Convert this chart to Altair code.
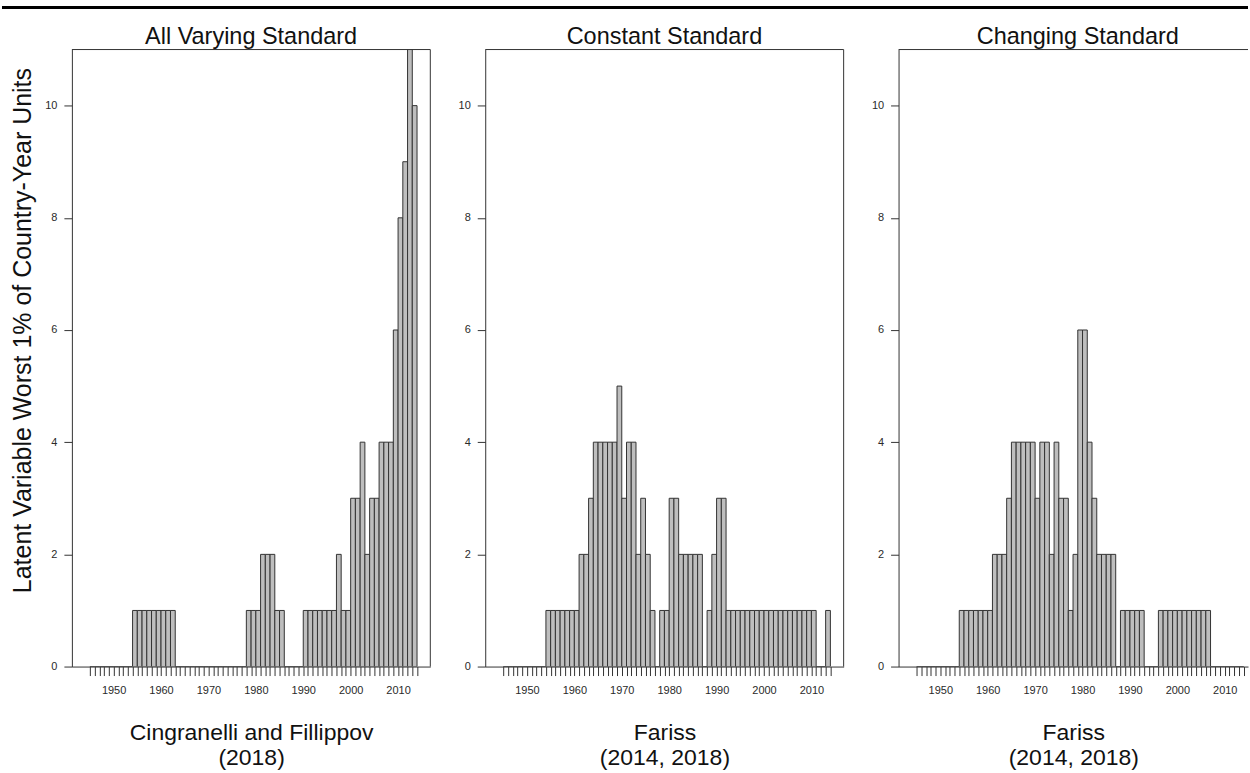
import altair as alt
import pandas as pd

# Each bar covers one calendar year: [year, year + 1)
years = list(range(1945, 2014))
tick_years = list(range(1945, 2015))

# Counts of country-years falling in the worst 1% of the latent variable
all_varying = [
    0, 0, 0, 0, 0, 0, 0, 0, 0,          # 1945-1953
    1, 1, 1, 1, 1, 1, 1, 1, 1,          # 1954-1962
    0, 0, 0, 0, 0, 0, 0, 0, 0, 0,       # 1963-1972
    0, 0, 0, 0, 0,                      # 1973-1977
    1, 1, 1, 2, 2, 2, 1, 1,             # 1978-1985
    0, 0, 0, 0,                         # 1986-1989
    1, 1, 1, 1, 1, 1, 1,                # 1990-1996
    2, 1, 1, 3, 3, 4, 2, 3, 3,          # 1997-2005
    4, 4, 4, 6, 8, 9, 12, 10,           # 2006-2013
]

constant = [
    0, 0, 0, 0, 0, 0, 0, 0, 0,          # 1945-1953
    1, 1, 1, 1, 1, 1, 1,                # 1954-1960
    2, 2, 3, 4, 4, 4, 4, 4,             # 1961-1968
    5, 3, 4, 4, 2, 3, 2, 1, 0,          # 1969-1977
    1, 1, 3, 3, 2, 2, 2, 2, 2,          # 1978-1986
    0, 1, 2, 3, 3,                      # 1987-1991
    1, 1, 1, 1, 1, 1, 1, 1, 1, 1,       # 1992-2001
    1, 1, 1, 1, 1, 1, 1, 1, 1,          # 2002-2010
    0, 0, 1,                            # 2011-2013
]

changing = [
    0, 0, 0, 0, 0, 0, 0, 0, 0,          # 1945-1953
    1, 1, 1, 1, 1, 1, 1,                # 1954-1960
    2, 2, 2, 3, 4, 4, 4, 4, 4,          # 1961-1969
    3, 4, 4, 2, 4, 3, 3, 1, 2,          # 1970-1978
    6, 6, 4, 3, 2, 2, 2, 2,             # 1979-1986
    0, 1, 1, 1, 1, 1,                   # 1987-1992
    0, 0, 0,                            # 1993-1995
    1, 1, 1, 1, 1, 1, 1, 1, 1, 1, 1,    # 1996-2006
    0, 0, 0, 0, 0, 0, 0,                # 2007-2013
]

titles = ["All Varying Standard", "Constant Standard", "Changing Standard"]
sources = [
    ["Cingranelli and Fillippov", "(2018)"],
    ["Fariss", "(2014, 2018)"],
    ["Fariss", "(2014, 2018)"],
]

FONT = "Liberation Sans"
INK = "#333333"
LABEL_INK = "#2a2a2a"
PANEL_H = 618


def panel(title, source, counts, domain, width, right_edge, y_title, top_band):
    df = pd.DataFrame({
        "year": years,
        "year_end": [y + 1 for y in years],
        "count": counts,
    })
    one = pd.DataFrame({"label": [title]})

    x_axis = alt.Axis(
        values=tick_years,
        format="d",
        labelExpr="datum.value % 10 === 0 ? datum.label : ''",
        tickSize=9,
        tickColor=INK,
        tickWidth=1,
        domainColor=INK,
        domainWidth=1,
        labelPadding=9,
        labelFontSize=11,
        labelColor=LABEL_INK,
        labelFont=FONT,
        title=source,
        titleFont=FONT,
        titleFontSize=23,
        titleFontWeight="normal",
        titleColor="#111111",
        titlePadding=26,
        titleLineHeight=25,
        grid=False,
    )
    y_axis_kwargs = dict(
        values=[0, 2, 4, 6, 8, 10],
        tickSize=8,
        tickColor=INK,
        domainColor=INK,
        domainWidth=1,
        labelPadding=7,
        labelFontSize=11,
        labelColor=LABEL_INK,
        labelFont=FONT,
        grid=False,
    )
    if y_title:
        y_axis = alt.Axis(
            title=y_title,
            titleFont=FONT,
            titleFontSize=25,
            titleFontWeight="normal",
            titleColor="#111111",
            titlePadding=9,
            titleY=281,
            **y_axis_kwargs,
        )
    else:
        y_axis = alt.Axis(title=None, **y_axis_kwargs)

    bars = alt.Chart(df).mark_bar(
        clip=True, fill="#bebebe", stroke=INK, strokeWidth=1
    ).encode(
        x=alt.X("year:Q", scale=alt.Scale(domain=domain, nice=False, zero=False), axis=x_axis),
        x2="year_end:Q",
        y=alt.Y("count:Q", scale=alt.Scale(domain=[0, 11], nice=False), axis=y_axis),
        y2=alt.datum(0),
    )

    layers = [bars]
    # top edge of the panel box
    layers.append(
        alt.Chart(one).mark_rule(color=INK, strokeWidth=1).encode(
            x=alt.value(0), x2=alt.value(width), y=alt.value(0)
        )
    )
    if right_edge:
        layers.append(
            alt.Chart(one).mark_rule(color=INK, strokeWidth=1).encode(
                x=alt.value(width), y=alt.value(0), y2=alt.value(PANEL_H)
            )
        )
    # panel heading
    layers.append(
        alt.Chart(one).mark_text(
            font=FONT, fontSize=23.5, color="#111111", align="center", baseline="alphabetic"
        ).encode(
            x=alt.value(width / 2 if right_edge else 359 / 2),
            y=alt.value(-6),
            text="label:N",
        )
    )
    if top_band:
        layers.append(
            alt.Chart(one).mark_rule(color="black", strokeWidth=3).encode(
                x=alt.value(-70), x2=alt.value(1178), y=alt.value(-42)
            )
        )

    return alt.layer(*layers).properties(width=width, height=PANEL_H)


p1 = panel(titles[0], sources[0], all_varying, [1941.2, 2016.8], 359, True,
           "Latent Variable Worst 1% of Country-Year Units", True)
p2 = panel(titles[1], sources[1], constant, [1941.2, 2016.8], 359, True, None, False)
p3 = panel(titles[2], sources[2], changing, [1941.2, 2014.9], 350, False, None, False)

chart = alt.hconcat(p1, p2, p3, spacing=55, bounds="flush").properties(
    padding={"left": 0, "top": 5, "right": 0, "bottom": 0},
    background="white",
).configure_view(stroke=None)

chart.save("out.html", embed_options={"renderer": "svg", "actions": False})
